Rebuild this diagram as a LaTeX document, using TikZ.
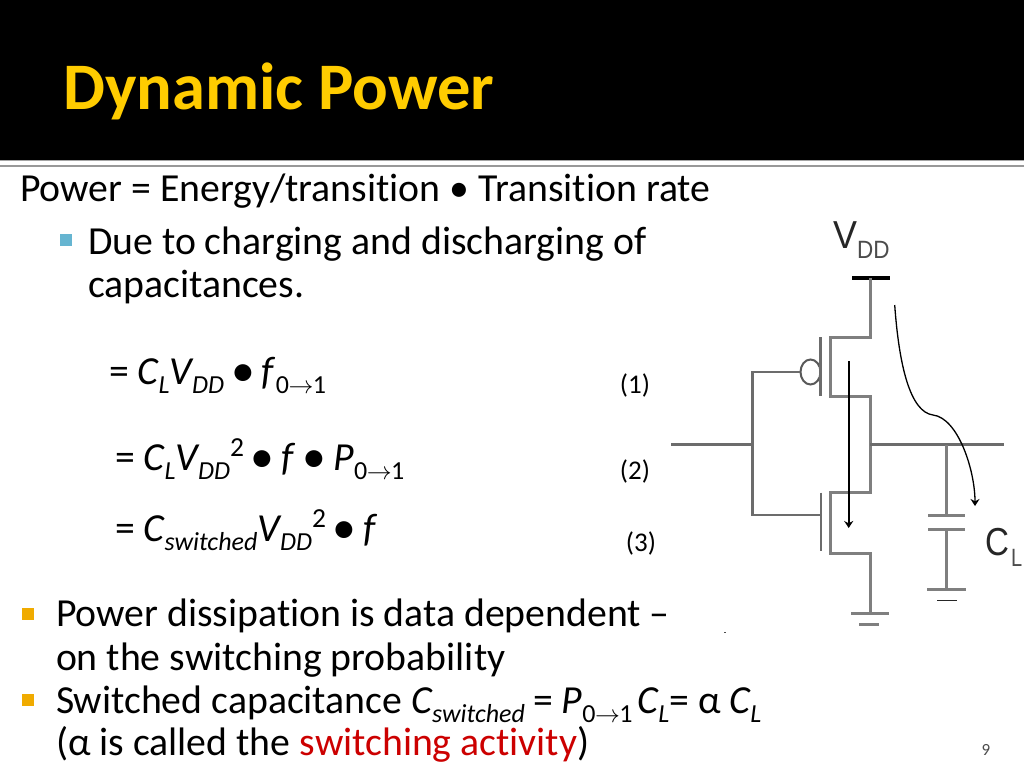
\documentclass[tikz,border=0pt]{standalone}
\usepackage{fontspec}
\usepackage{graphicx}
\setmainfont[Ligatures=NoCommon]{Carlito}
\newfontfamily\lab{Liberation Sans}
\usetikzlibrary{arrows.meta,shapes.geometric}
\definecolor{titleyellow}{HTML}{FFCC00}
\definecolor{wiregray}{HTML}{7F7F7F}
\definecolor{tealbul}{HTML}{66B5D1}
\definecolor{goldbul}{HTML}{F0AB00}
\definecolor{actred}{HTML}{CC0000}
\newcommand{\lowtxt}[1]{\raisebox{-0.25em}{\fontsize{26}{26}\selectfont #1}}
\newcommand{\uptxt}[1]{\raisebox{0.33em}{\fontsize{27.5}{27.5}\selectfont #1}}
\newcommand{\zeroone}{\lowtxt{\upshape 0\kern-0.5pt$\rightarrow$\kern-0.5pt 1}}
\newcommand{\bigdot}{\kern-2pt\raisebox{-0.06em}{\scalebox{1.2}{•}}\kern-2pt}
\tikzset{
  x=1pt,y=-1pt,
  body/.style={anchor=base west,inner sep=0pt,outer sep=0pt,font=\fontsize{39.75}{39.75}\selectfont,text=black},
  num/.style={anchor=base,inner sep=0pt,font=\fontsize{27}{27}\selectfont,text=black},
  wire/.style={draw=wiregray,line width=3pt,line cap=butt,line join=miter},
  thinwire/.style={draw=wiregray!85!black,line width=2.5pt,line join=miter},
  flow/.style={draw=black,line width=1.6pt,-{Stealth[length=7pt,width=9pt]}},
  bullet/.style={inner sep=0pt,minimum size=12pt,anchor=center},
  biglab/.style={anchor=base west,inner sep=0pt,font=\fontsize{39}{39}\selectfont\lab,text=black!85},
  sublab/.style={anchor=base west,inner sep=0pt,font=\fontsize{25}{25}\selectfont\lab,text=black!70}
}
\begin{document}
\begin{tikzpicture}
\useasboundingbox (0,0) rectangle (1024,768);
\fill[white] (0,0) rectangle (1024,768);
\fill[black] (0,0) rectangle (1024,160);
\fill[wiregray!70] (0,160) rectangle (1024,161);
\fill[wiregray!80] (0,165) rectangle (1024,167);
\node[anchor=base west,inner sep=0pt,text=titleyellow,font=\fontsize{66.5}{66.5}\selectfont\bfseries] (title) at (63,109) {Dynamic Power};
\node[body] (t1) at (20,201) {Power = Energy/transition • Transition rate};
\node[bullet,fill=tealbul] (b1) at (66,240) {};
\node[body] (t2) at (88,254) {Due to charging and discharging of};
\node[body] (t3) at (88,297) {capacitances.};
\node[body] (e1) at (109,384) {= \textit{C\lowtxt{L}V\lowtxt{DD}} \bigdot{} \textit{f}\zeroone};
\node[num] (n1) at (635,393) {(1)};
\node[body] (e2) at (115,470) {= \textit{C\lowtxt{L}V\lowtxt{DD}}\uptxt{2} \bigdot{} \textit{f} \bigdot{} \textit{P}\zeroone};
\node[num] (n2) at (635,479) {(2)};
\node[body] (e3) at (115,541) {= \textit{C\lowtxt{switched}V\lowtxt{DD}}\uptxt{2} \bigdot{} \textit{f}};
\node[num] (n3) at (641,551) {(3)};
\node[bullet,fill=goldbul] (b2) at (28,614) {};
\node[body] (t4) at (56,626) {Power dissipation is data dependent –};
\node[body] (t5) at (56,670) {on the switching probability};
\node[bullet,fill=goldbul] (b3) at (28,700) {};
\node[body] (t6) at (56,713) {Switched capacitance \textit{C\lowtxt{switched}}\kern8pt= \textit{P}\zeroone\kern5pt\textit{C\lowtxt{L}}= α \textit{C\lowtxt{L}}};
\node[body] (t7) at (56,755) {(α is called the \textcolor{actred}{switching activity})};
\node[num,font=\fontsize{17}{17}\selectfont,text=black!70] (pg) at (986,755) {9};
% circuit coordinates
\coordinate (vddL) at (852,278); \coordinate (vddR) at (890,278);
\coordinate (vdd) at (870,278);
\coordinate (pTopR) at (870,337); \coordinate (pTopL) at (830,337);
\coordinate (pBotL) at (830,396.5); \coordinate (pBotR) at (870,396.5);
\coordinate (out) at (870,444.5);
\coordinate (nTopR) at (870,492); \coordinate (nTopL) at (830,492);
\coordinate (nBotL) at (830,553); \coordinate (nBotR) at (870,553);
\coordinate (gnd) at (870,613);
\coordinate (outEnd) at (1004,444.5);
\coordinate (inStart) at (671,444.5);
\coordinate (inJ) at (752.7,444.5);
\coordinate (gp) at (752.7,372);
\coordinate (gn) at (752.7,515);
\coordinate (gnR) at (821,515);
\coordinate (capTop) at (946,444.5);
\coordinate (capA) at (946,515.5);
\coordinate (capB) at (946,529.5);
\coordinate (capG) at (946,589);
\node[ellipse,draw=wiregray!70!black,line width=2pt,minimum width=20pt,minimum height=25pt,inner sep=0pt] (bub) at (810.5,372) {};
\draw[line width=3.5pt,black] (vddL) -- (vddR);
\draw[wire] (vdd) -- (pTopR) -- (pTopL) -- (pBotL) -- (pBotR) -- (nTopR) -- (nTopL) -- (nBotL) -- (nBotR) -- (gnd);
\draw[wire] (851,613) -- (889,613);
\draw[wire] (859,624.5) -- (879,624.5);
\draw[thinwire] (820.7,337) -- (820.7,396);
\draw[thinwire] (821,492.7) -- (821,550.7);
\draw[thinwire] (bub.west) -- (gp) -- (gn) -- (gnR);
\draw[thinwire] (inStart) -- (inJ);
\draw[thinwire] (out) -- (outEnd);
\draw[wire] (capTop) -- (capA);
\draw[wire] (928,515.5) -- (965,515.5);
\draw[wire] (928,529.5) -- (965,529.5);
\draw[wire] (capB) -- (capG);
\draw[wire] (927,589) -- (966,589);
\draw[line width=1.5pt,black!85] (937,600.5) -- (957,600.5);
\coordinate (fa) at (848.7,361); \coordinate (fb) at (848.7,528);
\draw[flow] (fa) -- (fb);
\coordinate (ca) at (894.7,305); \coordinate (cm) at (933,415); \coordinate (cb) at (975,506);
\draw[flow,line width=1.3pt] (ca) .. controls (899,365) and (910,412) .. (cm) .. controls (958,418) and (975,470) .. (cb);
\node[biglab] (vl) at (833,248) {\scalebox{0.92}[1]{V}};
\node[sublab] (vs) at (857,258) {\scalebox{0.9}[1]{DD}};
\node[biglab] (cl) at (985,555) {\scalebox{0.85}[1]{C}};
\node[sublab] (cs) at (1011,566) {\scalebox{0.8}[1]{L}};
\fill[black!70] (723.5,631.5) rectangle (725.5,632.5);
\end{tikzpicture}
\end{document}
